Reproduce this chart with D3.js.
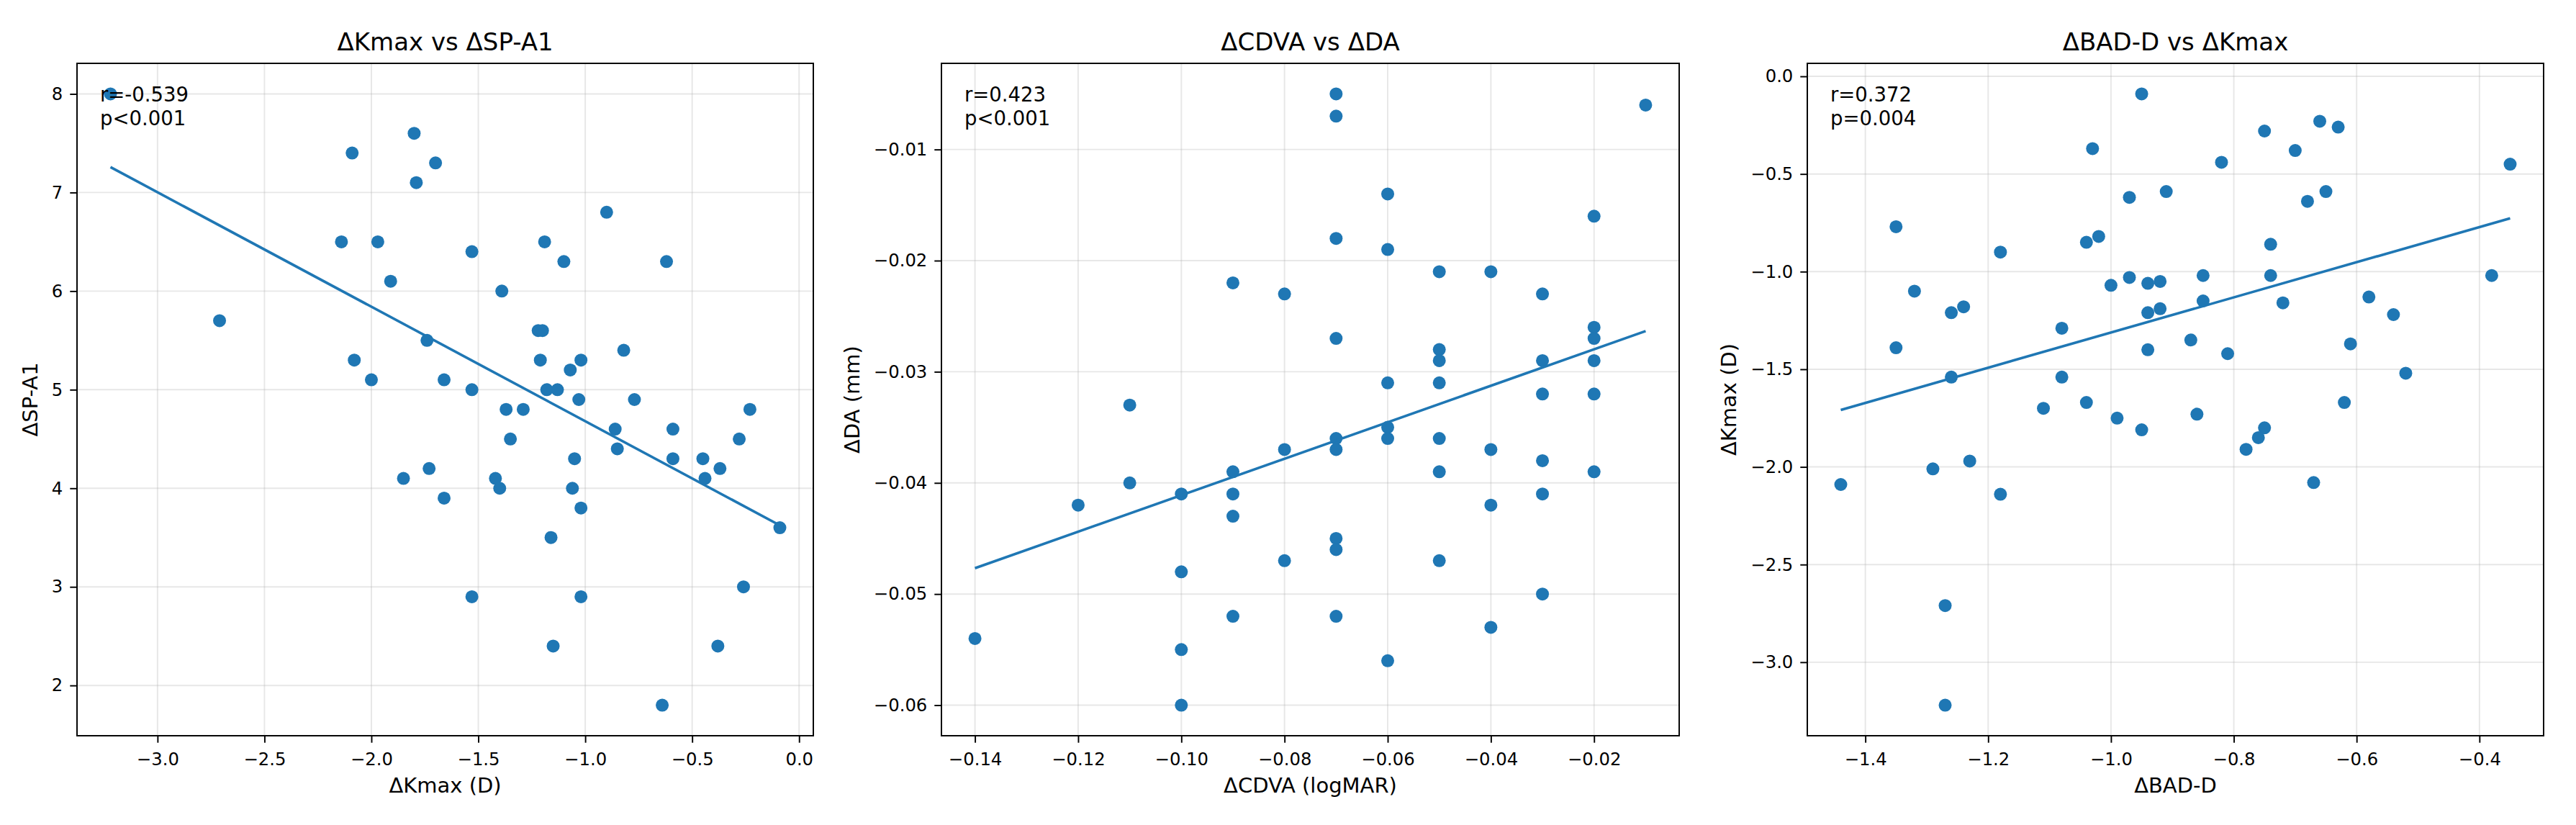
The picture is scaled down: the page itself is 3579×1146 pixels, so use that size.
<!DOCTYPE html>
<html>
<head>
<meta charset="utf-8">
<script src="https://cdn.jsdelivr.net/npm/d3@7"></script>
<style>
  body { margin: 0; background: #fff; }
  svg { display: block; }
  text { font-family: "DejaVu Sans", sans-serif; fill: #000; }
</style>
</head>
<body>
<svg id="chart" width="3579" height="1146"></svg>
<script>
// panel 1: dKmax vs dSP-A1
const kmaxChange1 = [-3.22, -2.09, -1.80, -1.70, -1.79, -2.14, -1.97, -1.53, -1.91, -2.71, -1.74, -2.08, -2.00, -1.66, -1.53, -1.85, -1.73, -1.66, -1.53,
  -0.90, -1.19, -1.10, -0.62, -1.39, -1.22, -1.20, -0.82, -1.21, -1.02, -1.07, -1.18, -1.13, -1.03, -0.77, -1.37, -1.29, -0.23, -0.86, -0.59,
  -1.35, -0.28, -0.85, -1.05, -0.59, -0.45, -0.37, -1.42, -0.44, -1.40, -1.06, -1.02, -0.09, -1.16, -1.02, -0.26, -1.15, -0.38, -0.64]
const spa1Change = [8.0, 7.4, 7.6, 7.3, 7.1, 6.5, 6.5, 6.4, 6.1, 5.7, 5.5, 5.3, 5.1, 5.1, 5.0, 4.1, 4.2, 3.9, 2.9,
  6.8, 6.5, 6.3, 6.3, 6.0, 5.6, 5.6, 5.4, 5.3, 5.3, 5.2, 5.0, 5.0, 4.9, 4.9, 4.8, 4.8, 4.8, 4.6, 4.6,
  4.5, 4.5, 4.4, 4.3, 4.3, 4.3, 4.2, 4.1, 4.1, 4.0, 4.0, 3.8, 3.6, 3.5, 2.9, 3.0, 2.4, 2.4, 1.8]

// panel 2: dCDVA vs dDA
const cdvaChange = [-0.09, -0.08, -0.11, -0.08, -0.09, -0.11, -0.10, -0.09, -0.12, -0.09, -0.08, -0.10, -0.09, -0.14, -0.10, -0.10,
  -0.07, -0.07, -0.01, -0.06, -0.02, -0.07, -0.06, -0.05, -0.04, -0.03, -0.02, -0.02, -0.07, -0.05, -0.05, -0.03, -0.02, -0.06, -0.05, -0.03,
  -0.02, -0.06, -0.06, -0.07, -0.07, -0.05, -0.04, -0.03, -0.05, -0.02, -0.03, -0.04, -0.07, -0.07, -0.05, -0.03, -0.07, -0.04, -0.06]
const daChange = [-0.022, -0.023, -0.033, -0.037, -0.039, -0.040, -0.041, -0.041, -0.042, -0.043, -0.047, -0.048, -0.052, -0.054, -0.055, -0.060,
  -0.005, -0.007, -0.006, -0.014, -0.016, -0.018, -0.019, -0.021, -0.021, -0.023, -0.026, -0.027, -0.027, -0.028, -0.029, -0.029, -0.029, -0.031, -0.031, -0.032,
  -0.032, -0.035, -0.036, -0.036, -0.037, -0.036, -0.037, -0.038, -0.039, -0.039, -0.041, -0.042, -0.045, -0.046, -0.047, -0.050, -0.052, -0.053, -0.056]

// panel 3: dBAD-D vs dKmax
const badChange = [-0.95, -1.03, -0.97, -1.35, -1.02, -1.04, -1.18, -0.97, -0.94, -1.00, -1.32, -1.24, -1.26, -0.94, -1.08, -1.35, -0.94, -1.26, -1.08, -1.04,
  -1.11, -0.99, -0.95, -1.23, -1.29, -1.44, -1.18, -1.27, -1.27,
  -0.92, -0.92, -0.91, -0.82, -0.75, -0.66, -0.63, -0.70, -0.68, -0.65, -0.35, -0.74, -0.85, -0.74, -0.38, -0.58, -0.85, -0.72, -0.54, -0.87,
  -0.61, -0.81, -0.52, -0.62, -0.86, -0.75, -0.76, -0.78, -0.67]
const kmaxChange3 = [-0.09, -0.37, -0.62, -0.77, -0.82, -0.85, -0.90, -1.03, -1.06, -1.07, -1.10, -1.18, -1.21, -1.21, -1.29, -1.39, -1.40, -1.54, -1.54, -1.67,
  -1.70, -1.75, -1.81, -1.97, -2.01, -2.09, -2.14, -2.71, -3.22,
  -1.05, -1.19, -0.59, -0.44, -0.28, -0.23, -0.26, -0.38, -0.64, -0.59, -0.45, -0.86, -1.02, -1.02, -1.02, -1.13, -1.15, -1.16, -1.22, -1.35,
  -1.37, -1.42, -1.52, -1.67, -1.73, -1.80, -1.85, -1.91, -2.08]

// tick labels
const xTicks1 = [-3.0, -2.5, -2.0, -1.5, -1.0, -0.5, 0.0]
const yTicks1 = [2, 3, 4, 5, 6, 7, 8]
const xTicks2 = [-0.14, -0.12, -0.10, -0.08, -0.06, -0.04, -0.02]
const yTicks2 = [-0.06, -0.05, -0.04, -0.03, -0.02, -0.01]
const xTicks3 = [-1.4, -1.2, -1.0, -0.8, -0.6, -0.4]
const yTicks3 = [-3.0, -2.5, -2.0, -1.5, -1.0, -0.5, 0.0]

const titles = ['ΔKmax vs ΔSP-A1', 'ΔCDVA vs ΔDA', 'ΔBAD-D vs ΔKmax']
const xLabels = ['ΔKmax (D)', 'ΔCDVA (logMAR)', 'ΔBAD-D']
const yLabels = ['ΔSP-A1', 'ΔDA (mm)', 'ΔKmax (D)']
const statLines = [['r=-0.539', 'p<0.001'], ['r=0.423', 'p<0.001'], ['r=0.372', 'p=0.004']]

const blue = '#1f77b4'
const plotTop = 88, plotBottom = 1022
const lefts = [107, 1308, 2511], rights = [1130, 2333, 3534]

const panels = [
  {xs: kmaxChange1, ys: spa1Change, xt: xTicks1, yt: yTicks1, xf: '.1f', yf: 'd'},
  {xs: cdvaChange, ys: daChange, xt: xTicks2, yt: yTicks2, xf: '.2f', yf: '.2f'},
  {xs: badChange, ys: kmaxChange3, xt: xTicks3, yt: yTicks3, xf: '.1f', yf: '.1f'}
]

const svg = d3.select('#chart')

function padded(vals) {
  const [a, b] = d3.extent(vals)
  const p = (b - a) * 0.05
  return [a - p, b + p]
}

function fit(xs, ys) {
  const mx = d3.mean(xs), my = d3.mean(ys)
  let sxy = 0, sxx = 0
  xs.forEach((x, i) => { sxy += (x - mx) * (ys[i] - my); sxx += (x - mx) * (x - mx) })
  const b = sxy / sxx
  return {a: my - b * mx, b: b}
}

panels.forEach((p, k) => {
  const left = lefts[k], right = rights[k]
  const x = d3.scaleLinear().domain(padded(p.xs)).range([left, right])
  const y = d3.scaleLinear().domain(padded(p.ys)).range([plotBottom, plotTop])
  const g = svg.append('g')

  // grid
  g.append('g').selectAll('line').data(p.xt).enter().append('line')
    .attr('x1', d => x(d)).attr('x2', d => x(d))
    .attr('y1', plotTop).attr('y2', plotBottom)
    .attr('stroke', '#b0b0b0').attr('stroke-opacity', 0.3).attr('stroke-width', 1.94)
  g.append('g').selectAll('line').data(p.yt).enter().append('line')
    .attr('x1', left).attr('x2', right)
    .attr('y1', d => y(d)).attr('y2', d => y(d))
    .attr('stroke', '#b0b0b0').attr('stroke-opacity', 0.3).attr('stroke-width', 1.94)

  // points
  g.append('g').selectAll('circle').data(p.xs).enter().append('circle')
    .attr('cx', d => x(d)).attr('cy', (d, i) => y(p.ys[i]))
    .attr('r', 9).attr('fill', blue)

  // regression line
  const f = fit(p.xs, p.ys)
  const ext = d3.extent(p.xs)
  g.append('path')
    .datum(ext)
    .attr('d', d3.line().x(d => x(d)).y(d => y(f.a + f.b * d)))
    .attr('fill', 'none').attr('stroke', blue).attr('stroke-width', 3.6)

  // axes
  const xAxis = d3.axisBottom(x).tickValues(p.xt).tickFormat(d3.format(p.xf))
    .tickSize(9.7).tickPadding(14)
  const yAxis = d3.axisLeft(y).tickValues(p.yt).tickFormat(d3.format(p.yf))
    .tickSize(9.7).tickPadding(10)
  const xg = g.append('g').attr('transform', 'translate(0,' + plotBottom + ')').call(xAxis)
  const yg = g.append('g').attr('transform', 'translate(' + left + ',0)').call(yAxis)
  ;[xg, yg].forEach(a => {
    a.select('.domain').remove()
    a.selectAll('line').attr('stroke', '#000').attr('stroke-width', 1.94)
    a.selectAll('text').attr('font-size', 24.3).attr('font-family', 'DejaVu Sans').attr('fill', '#000')
  })

  // spines
  g.append('rect')
    .attr('x', left).attr('y', plotTop)
    .attr('width', right - left).attr('height', plotBottom - plotTop)
    .attr('fill', 'none').attr('stroke', '#000').attr('stroke-width', 1.94)

  const cx = (left + right) / 2
  g.append('text').attr('x', cx).attr('y', 70)
    .attr('text-anchor', 'middle').attr('font-size', 34)
    .text(titles[k])
  g.append('text').attr('x', cx).attr('y', 1101)
    .attr('text-anchor', 'middle').attr('font-size', 29)
    .text(xLabels[k])

  const bb = yg.node().getBBox()
  const lx = left + bb.x - 20
  g.append('text')
    .attr('transform', 'translate(' + lx + ',' + ((plotTop + plotBottom) / 2) + ') rotate(-90)')
    .attr('text-anchor', 'middle').attr('font-size', 29)
    .text(yLabels[k])

  g.append('text').selectAll('tspan').data(statLines[k]).enter().append('tspan')
    .attr('x', left + 32)
    .attr('y', (d, i) => plotTop + 52.5 + i * 33)
    .attr('font-size', 27.5)
    .text(d => d)
})
</script>
</body>
</html>
